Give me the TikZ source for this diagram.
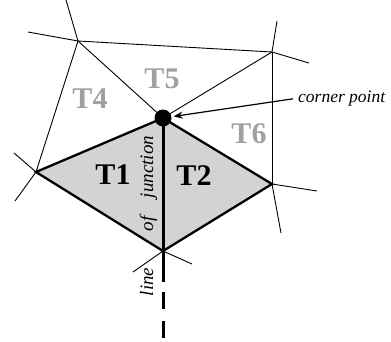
\documentclass[tikz,border=0pt]{standalone}
\usepackage{fontspec}
\setmainfont{Liberation Serif}
\usetikzlibrary{arrows.meta}
\definecolor{tgray}{RGB}{160,160,160}
\definecolor{tfill}{RGB}{210,211,213}
\begin{document}
\begin{tikzpicture}[x=1pt,y=-1pt,
  thinline/.style={line width=0.9pt,black},
  thickline/.style={line width=2.3pt,black,line join=miter},
  junc/.style={line width=3pt,black},
  tlab/.style={font=\fontsize{30}{32}\selectfont\bfseries,inner sep=0pt},
  glab/.style={tlab,text=tgray},
  rlab/.style={font=\fontsize{19}{21}\selectfont\itshape,inner sep=0pt,rotate=90,anchor=base}]
\useasboundingbox (0,0) rectangle (391,341);
% vertices
\coordinate (A) at (78,41);
\coordinate (D) at (272,52);
\coordinate (L) at (36,172);
\coordinate (R) at (272,184);
\coordinate (B) at (163,251);
\coordinate (C) at (163,118);
% free ends
\coordinate (At) at (66,0);
\coordinate (Al) at (28,32);
\coordinate (Dt) at (277,21);
\coordinate (Dr) at (309,63);
\coordinate (Rr) at (317,191);
\coordinate (Rd) at (281,233);
\coordinate (Ll) at (14,153);
\coordinate (Ld) at (15,201);
\coordinate (Bl) at (133,272);
\coordinate (Br) at (192,264);
\coordinate (J1) at (163,282);
\coordinate (J2) at (163,292);
\coordinate (J3) at (163,338);
% fill
\fill[tfill] (C) -- (R) -- (B) -- (L) -- cycle;
% thin mesh
\draw[thinline] (At) -- (A);
\draw[thinline] (Al) -- (A);
\draw[thinline] (A) -- (D);
\draw[thinline] (Dt) -- (D);
\draw[thinline] (D) -- (Dr);
\draw[thinline] (D) -- (R);
\draw[thinline] (R) -- (Rr);
\draw[thinline] (R) -- (Rd);
\draw[thinline] (D) -- (C);
\draw[thinline] (A) -- (C);
\draw[thinline] (A) -- (L);
\draw[thinline] (Ll) -- (L);
\draw[thinline] (L) -- (Ld);
\draw[thinline] (Bl) -- (B);
\draw[thinline] (B) -- (Br);
% diamond
\draw[thickline] (C) -- (R) -- (B) -- (L) -- cycle;
% junction line
\draw[junc] (C) -- (B) -- (J1);
\draw[junc,dash pattern=on 17pt off 12pt] (J2) -- (J3);
% corner point
\node[circle,fill=black,inner sep=0pt,minimum size=17pt] (cp) at (C) {};
\node[font=\fontsize{17.5}{20}\selectfont\itshape,inner sep=0pt,anchor=base west] (cpt) at (298,102) {corner point};
\draw[line width=1.2pt,-{Stealth[length=9pt,width=7pt]},shorten >=2pt,shorten <=5pt] (cpt.west) -- (cp);
% labels
\node[tlab] (t1) at (113,175) {T1};
\node[tlab] (t2) at (194,176) {T2};
\node[glab] (t4) at (90,99) {T4};
\node[glab] (t5) at (162,79) {T5};
\node[glab] (t6) at (249,134) {T6};
\node[rlab] (lj) at (153,167) {junction};
\node[rlab] (lo) at (153,224) {of};
\node[rlab] (ll) at (153,282) {line};
\end{tikzpicture}
\end{document}
